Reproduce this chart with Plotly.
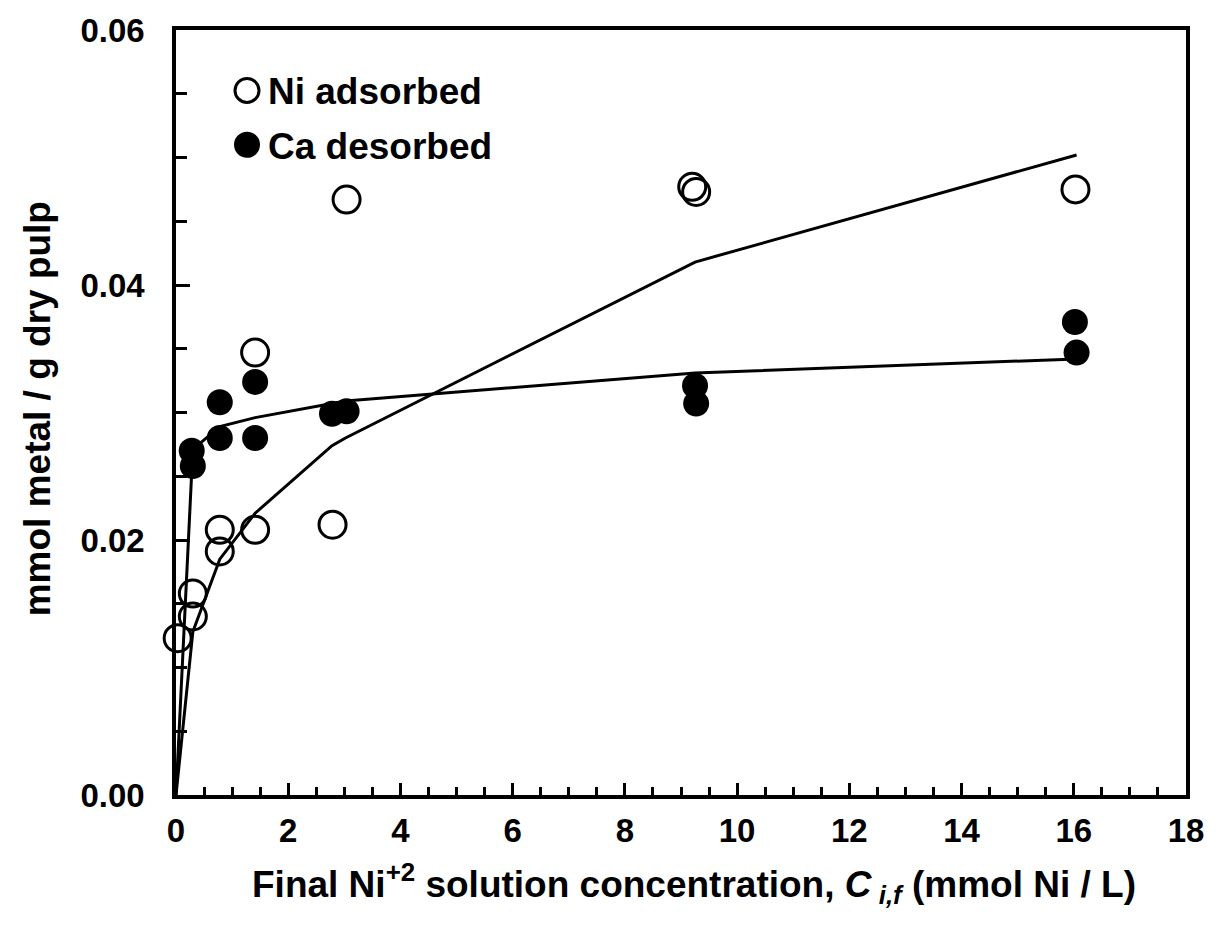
import plotly.graph_objects as go

# ---- data ----
ni_x = [0.03, 0.30, 0.30, 0.78, 0.78, 1.41, 1.41, 2.79, 3.04, 9.20, 9.27, 16.03]
ni_y = [0.0123, 0.0158, 0.0140, 0.0208, 0.0191, 0.0208, 0.0347, 0.0212, 0.0467, 0.0477, 0.0473, 0.0475]

ca_x = [0.28, 0.30, 0.78, 0.78, 1.41, 1.41, 2.78, 3.04, 9.25, 9.27, 16.02, 16.05]
ca_y = [0.0270, 0.0258, 0.0308, 0.0280, 0.0324, 0.0280, 0.0299, 0.0301, 0.0321, 0.0307, 0.0371, 0.0347]

nifit_x = [0, 0.30, 0.78, 1.41, 2.78, 3.02, 9.25, 16.05]
nifit_y = [0, 0.0128, 0.0185, 0.0221, 0.0274, 0.0280, 0.0418, 0.0502]

cafit_x = [0, 0.30, 0.78, 1.41, 2.78, 3.02, 9.25, 16.05]
cafit_y = [0, 0.0271, 0.0289, 0.0296, 0.0307, 0.0309, 0.0331, 0.0342]

legend_labels = ["Ni adsorbed", "Ca desorbed"]
x_title = "Final Ni<sup>+2</sup> solution concentration, <i>C</i><sub><i> i,f</i></sub> (mmol Ni / L)"
y_title = "mmol metal / g dry pulp"

FONT = "Liberation Sans, Arial, Helvetica, sans-serif"

fig = go.Figure()
fig.add_trace(go.Scatter(x=nifit_x, y=nifit_y, mode="lines",
                         line=dict(color="black", width=3), showlegend=False, cliponaxis=False))
fig.add_trace(go.Scatter(x=cafit_x, y=cafit_y, mode="lines",
                         line=dict(color="black", width=3), showlegend=False, cliponaxis=False))
fig.add_trace(go.Scatter(x=ni_x, y=ni_y, mode="markers", name=legend_labels[0],
                         marker=dict(symbol="circle-open", size=27, color="black",
                                     line=dict(width=3, color="black")),
                         showlegend=False, cliponaxis=False))
fig.add_trace(go.Scatter(x=ca_x, y=ca_y, mode="markers", name=legend_labels[1],
                         marker=dict(symbol="circle", size=26, color="black",
                                     line=dict(width=0)),
                         showlegend=False, cliponaxis=False))

axis_common = dict(showline=True, linewidth=3.5, linecolor="black", mirror=True,
                   ticks="inside", tickwidth=3, tickcolor="black", showgrid=False,
                   zeroline=False,
                   tickfont=dict(family=FONT, size=33, color="black", weight="bold"))

fig.update_xaxes(range=[0, 18], dtick=2, tick0=0, ticklen=12, ticklabelstandoff=4,
                 minor=dict(dtick=0.5, ticks="inside", ticklen=8, tickwidth=3, tickcolor="black",
                            showgrid=False),
                 **axis_common)
fig.update_yaxes(range=[0, 0.06], dtick=0.02, tick0=0, ticklen=14, tickformat=".2f",
                 ticklabelstandoff=21,
                 minor=dict(dtick=0.005, ticks="inside", ticklen=11, tickwidth=3, tickcolor="black",
                            showgrid=False),
                 **axis_common)

# manual legend (circles in pixel size anchored in paper coordinates)
shapes = [
    dict(type="circle", xref="paper", yref="paper", xsizemode="pixel", ysizemode="pixel",
         xanchor=0.0703, yanchor=0.921, x0=-12, x1=12, y0=-12, y1=12,
         line=dict(color="black", width=3), fillcolor="rgba(0,0,0,0)"),
    dict(type="circle", xref="paper", yref="paper", xsizemode="pixel", ysizemode="pixel",
         xanchor=0.0703, yanchor=0.850, x0=-13, x1=13, y0=-13, y1=13,
         line=dict(color="black", width=0), fillcolor="black"),
]
annotations = [
    dict(text="<b>%s</b>" % legend_labels[0], xref="paper", yref="paper", x=0.089, y=0.919,
         xanchor="left", yanchor="middle", showarrow=False,
         font=dict(family=FONT, size=37, color="black")),
    dict(text="<b>%s</b>" % legend_labels[1], xref="paper", yref="paper", x=0.089, y=0.848,
         xanchor="left", yanchor="middle", showarrow=False,
         font=dict(family=FONT, size=37, color="black")),
    dict(text="<b>%s</b>" % x_title, xref="paper", yref="paper", x=0.513, y=-0.116,
         xanchor="center", yanchor="middle", showarrow=False,
         font=dict(family=FONT, size=37, color="black")),
    dict(text="<b>%s</b>" % y_title, xref="paper", yref="paper", x=-0.137, y=0.505,
         xanchor="center", yanchor="middle", showarrow=False, textangle=-90,
         font=dict(family=FONT, size=37, color="black")),
]

fig.update_layout(width=1221, height=930,
                  margin=dict(l=176, r=35, t=22, b=135),
                  plot_bgcolor="white", paper_bgcolor="white",
                  shapes=shapes, annotations=annotations)

fig.write_html("out.html")
